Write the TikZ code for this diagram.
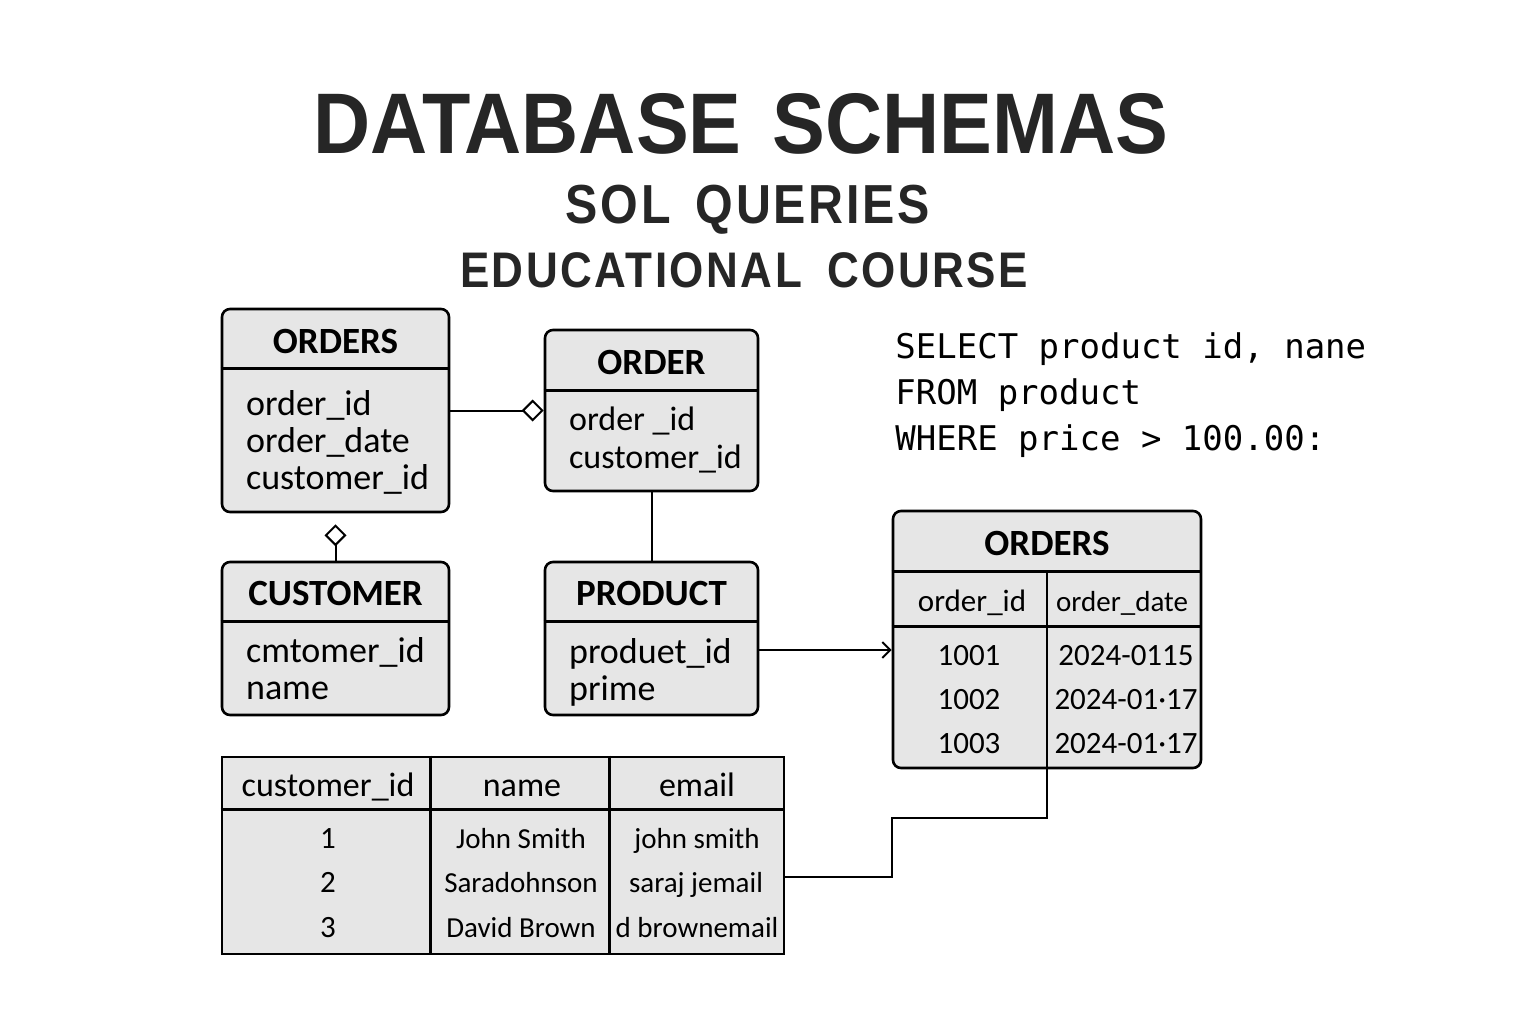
\documentclass[tikz,border=0pt]{standalone}
\usepackage{fontspec}
\setmainfont{Carlito}
\newfontfamily\titlefont[FakeStretch=0.92]{Liberation Sans}
\newfontfamily\subfont[FakeStretch=0.88,LetterSpace=5]{Liberation Sans}
\newfontfamily\codefont{DejaVu Sans Mono}
\usetikzlibrary{arrows.meta,positioning,calc}
\definecolor{boxgray}{RGB}{230,230,230}
\definecolor{inkgray}{RGB}{38,38,38}
\tikzset{
  entity/.style={draw=black, line width=1.3pt, fill=boxgray, rounded corners=4pt, inner sep=0pt},
  grid/.style={draw=black, line width=1.3pt, fill=boxgray, inner sep=0pt},
  rule/.style={line width=1.3pt},
  link/.style={line width=1pt},
  hdr/.style={font=\fontsize{18.5}{20}\selectfont\bfseries, inner sep=0pt},
  attr/.style={font=\fontsize{18}{18.5}\selectfont, align=left, anchor=north west, inner sep=0pt},
  cell/.style={font=\fontsize{15.5}{18}\selectfont, inner sep=0pt, text height=0.68em, text depth=0.18em},
  smallcell/.style={cell, font=\fontsize{14.5}{18}\selectfont},
  bigcell/.style={cell, font=\fontsize{17}{18}\selectfont},
}
\begin{document}
\begin{tikzpicture}[x=0.5pt, y=-0.5pt]
  \fill[white] (0,0) rectangle (1536,1024);
  \useasboundingbox (0,0) rectangle (1536,1024);

  %% Titles
  \node[font=\titlefont\fontsize{43}{43}\selectfont\bfseries, text=inkgray] (title) at (741,124) {DATABASE\hspace{0.36em}SCHEMAS};
  \node[font=\subfont\fontsize{27.5}{28}\selectfont\bfseries, text=inkgray] (subtitle) at (748,210) {SOL\hspace{0.45em}QUERIES};
  \node[font=\subfont\fontsize{25}{26}\selectfont\bfseries, text=inkgray] (course) at (744,270) {EDUCATIONAL\hspace{0.5em}COURSE};

  %% Entity boxes
  \node[entity, minimum width=113.5pt, minimum height=101.5pt] (orders) at (335.5,410.5) {};
  \node[hdr] (ordershd) at ($(orders.north)+(0,34)$) {ORDERS};
  \draw[rule] ($(orders.north west)+(0,61)$) -- ($(orders.north east)+(0,61)$);
  \node[attr] (ordersat) at ($(orders.north west)+(25,82)$) {order\_id\\order\_date\\customer\_id};

  \node[entity, minimum width=106.5pt, minimum height=80.5pt] (order) at (651.5,410.5) {};
  \node[hdr] (orderhd) at ($(order.north)+(0,34)$) {ORDER};
  \draw[rule] ($(order.north west)+(0,62)$) -- ($(order.north east)+(0,62)$);
  \node[attr, font=\fontsize{17}{19}\selectfont] (orderat) at ($(order.north west)+(25,78)$) {order \_id\\customer\_id};

  \node[entity, minimum width=113.5pt, minimum height=76.5pt] (customer) at (335.5,638.5) {};
  \node[hdr] (customerhd) at ($(customer.north)+(0,33)$) {CUSTOMER};
  \draw[rule] ($(customer.north west)+(0,61)$) -- ($(customer.north east)+(0,61)$);
  \node[attr] (customerat) at ($(customer.north west)+(25,76)$) {cmtomer\_id\\name};

  \node[entity, minimum width=106.5pt, minimum height=76.5pt] (product) at (651.5,638.5) {};
  \node[hdr] (producthd) at ($(product.north)+(0,33)$) {PRODUCT};
  \draw[rule] ($(product.north west)+(0,61)$) -- ($(product.north east)+(0,61)$);
  \node[attr] (productat) at ($(product.north west)+(25,77)$) {produet\_id\\prime};

  %% SQL query
  \node[font=\codefont\fontsize{17}{23}\selectfont, align=left, anchor=north west, inner sep=0pt] (query) at (895,332) {SELECT product id, nane\\FROM product\\WHERE price > 100.00:};

  %% ORDERS data table
  \node[entity, minimum width=154pt, minimum height=128.5pt] (otab) at (1047,639.5) {};
  \node[hdr] (otabhd) at ($(otab.north)+(0,34)$) {ORDERS};
  \draw[rule] ($(otab.north west)+(0,62)$) -- ($(otab.north east)+(0,62)$);
  \draw[rule] ($(otab.north west)+(0,117)$) -- ($(otab.north east)+(0,117)$);
  \draw[rule] ($(otab.north)+(0,62)$) -- (otab.south);
  \node[cell] (ocol1) at (972,606) {order\_id};
  \node[smallcell] (ocol2) at (1122,606) {order\_date};
  \node[cell] (oid1) at (969,660) {1001};
  \node[cell] (oid2) at (969,704) {1002};
  \node[cell] (oid3) at (969,748) {1003};
  \node[cell] (odt1) at (1126,660) {2024-0115};
  \node[cell] (odt2) at (1126,704) {2024-01·17};
  \node[cell] (odt3) at (1126,748) {2024-01·17};

  %% CUSTOMER data table
  \node[grid, minimum width=281pt, minimum height=98.5pt] (ctab) at (503,855.5) {};
  \draw[rule] ($(ctab.north west)+(0,54)$) -- ($(ctab.north east)+(0,54)$);
  \draw[rule] ($(ctab.north west)+(210,0)$) -- ($(ctab.south west)+(210,0)$);
  \draw[rule] ($(ctab.north west)+(389,0)$) -- ($(ctab.south west)+(389,0)$);
  \node[bigcell] (ccol1) at (328,791) {customer\_id};
  \node[bigcell] (ccol2) at (522,791) {name};
  \node[bigcell] (ccol3) at (697,791) {email};
  \node[cell] (cid1) at (328,843) {1};
  \node[cell] (cid2) at (328,887) {2};
  \node[cell] (cid3) at (328,932) {3};
  \node[smallcell] (cnm1) at (521,843) {John Smith};
  \node[smallcell] (cnm2) at (521,887) {Saradohnson};
  \node[smallcell] (cnm3) at (521,932) {David Brown};
  \node[smallcell] (cml1) at (697,843) {john smith};
  \node[smallcell] (cml2) at (696,887) {saraj jemail};
  \node[smallcell] (cml3) at (697,932) {d brownemail};

  %% Connectors
  \draw[link, -{Diamond[open, length=11pt, width=11pt]}] (orders.east) -- (order.west);
  \draw[link, -{Diamond[open, length=11pt, width=11pt]}, shorten >=5.5pt] (customer.north) -- (orders.south);
  \draw[link] (order.south) -- (product.north);
  \draw[link, -{Straight Barb[length=4pt, width=8pt]}] ([yshift=-5.75pt]product.east) -- ([yshift=-5.75pt]product.east -| otab.west);
  \draw[link] ([yshift=-10.75pt]ctab.east) -| ($(otab.south west)+(0,49)$) -| (otab.south);
\end{tikzpicture}
\end{document}
